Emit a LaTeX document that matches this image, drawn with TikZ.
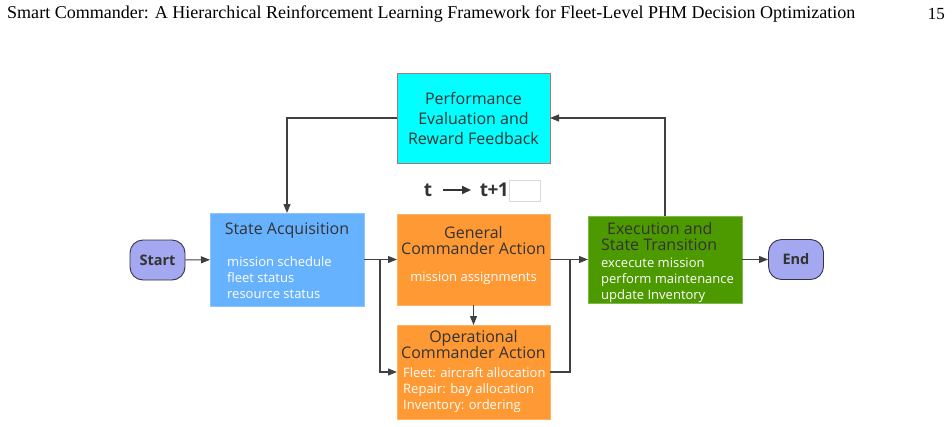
\documentclass[tikz,border=0pt]{standalone}
\usepackage{fontspec}
\setmainfont{Liberation Serif}
\newfontfamily\boxfont{Open Sans}
\usetikzlibrary{arrows.meta}
\definecolor{cyanfill}{HTML}{00FFFF}
\definecolor{cyanedge}{HTML}{B87070}
\definecolor{bluefill}{HTML}{66B2FF}
\definecolor{blueedge}{HTML}{8CC4FF}
\definecolor{orangefill}{HTML}{FF9933}
\definecolor{orangeedge}{HTML}{FFB366}
\definecolor{greenfill}{HTML}{4D9900}
\definecolor{greenedge}{HTML}{80B84D}
\definecolor{termfill}{HTML}{A3A8F0}
\definecolor{termedge}{HTML}{333344}
\definecolor{txtdark}{HTML}{333333}
\definecolor{linec}{HTML}{404040}
\begin{document}
\begin{tikzpicture}[x=1pt,y=-1pt,
  box/.style={draw, line width=0.9pt, inner sep=0pt, outer sep=0pt},
  term/.style={draw=termedge, fill=termfill, line width=0.9pt, rounded corners=13pt, inner sep=0pt,
    minimum width=55pt, minimum height=40pt, font=\boxfont\bfseries\fontsize{14.5}{16}\selectfont, text=txtdark},
  ttl/.style={font=\boxfont\fontsize{16}{16}\selectfont, text=txtdark, align=center, inner sep=0pt},
  itm/.style={font=\boxfont\fontsize{13}{16}\selectfont, text=white, align=left, inner sep=0pt, anchor=north west},
  conn/.style={draw=linec, line width=1.1pt, -{Triangle[length=9pt,width=7pt]}},
  plain/.style={draw=linec, line width=1.1pt}
]
\useasboundingbox (0,0) rectangle (952,426);
\node[anchor=west, inner sep=0pt] (hdr) at (7,14)
  {\resizebox{848pt}{!}{\fontsize{16.5}{18}\selectfont Smart Commander: A Hierarchical Reinforcement Learning Framework for Fleet-Level PHM Decision Optimization}};
\node[anchor=east, inner sep=0pt, font=\fontsize{17}{18}\selectfont] (pg) at (945,14) {15};

% boxes
\node[box, draw=cyanedge, fill=cyanfill, minimum width=153pt, minimum height=90pt] (perf) at (473.5,118) {};
\node[ttl, font=\boxfont\fontsize{16}{20}\selectfont] (perft) at (473.5,118) {Performance\\Evaluation and\\Reward Feedback};

\node[box, draw=blueedge, fill=bluefill, minimum width=154pt, minimum height=93pt] (state) at (287,259.5) {};
\node[ttl] (statet) at (287,231) {State Acquisition};
\node[itm] (statei) at (227,256) {mission schedule\\fleet status\\resource status};

\node[box, draw=orangeedge, fill=orangefill, minimum width=153pt, minimum height=91pt] (gen) at (473.5,259.5) {};
\node[ttl] (gent) at (473.5,240) {General\\Commander Action};
\node[itm, anchor=center, align=center] (geni) at (473.5,278) {mission assignments};

\node[box, draw=orangeedge, fill=orangefill, minimum width=153pt, minimum height=94pt] (op) at (473.5,372) {};
\node[ttl] (opt) at (473.5,344) {Operational\\Commander Action};
\node[itm] (opi) at (403,367) {Fleet: aircraft allocation\\Repair: bay allocation\\Inventory: ordering};

\node[box, draw=greenedge, fill=greenfill, minimum width=154pt, minimum height=87pt] (exe) at (665,259.5) {};
\node[ttl, align=left, anchor=west] (exet) at (601,236) {\hspace*{6pt}Execution and\\State Transition};
\node[itm] (exei) at (601,258) {excecute mission\\perform maintenance\\update Inventory};

\node[term] (start) at (157.5,260) {Start};
\node[term] (end) at (796,259.5) {End};

% t -> t+1
\node[font=\boxfont\bfseries\fontsize{19}{20}\selectfont, text=txtdark, inner sep=0pt] (t0) at (428,190) {t};
\node[font=\boxfont\bfseries\fontsize{19}{20}\selectfont, text=txtdark, inner sep=0pt, anchor=east] (t1) at (509,190) {t\kern-0.5pt+\kern-0.5pt1};
\node[draw=black!15, line width=0.6pt, minimum width=31pt, minimum height=21pt, inner sep=0pt, anchor=west] (blank) at (509,190.5) {};
\draw[draw=txtdark, line width=2pt, -{Triangle[length=9pt,width=8pt]}] (443,190) -- (471,190);

% connectors
\coordinate (j1) at (380,259.5);
\coordinate (j2) at (570,259.5);
\draw[conn] (start) -- (state);
\draw[conn] (state.east |- j1) -- (gen.west |- j1);
\draw[conn] (j1) |- (op.west |- 0,372);
\draw[conn] (gen) -- (op);
\draw[plain] (gen.east |- j2) -- (j2);
\draw[plain] (op.east |- 0,372) -| (j2);
\draw[conn] (j2) -- (exe.west |- j2);
\draw[conn] (exe) -- (end);
\draw[conn] (exe.north) |- (perf.east);
\draw[conn] (perf.west) -| (state.north);
\end{tikzpicture}
\end{document}
